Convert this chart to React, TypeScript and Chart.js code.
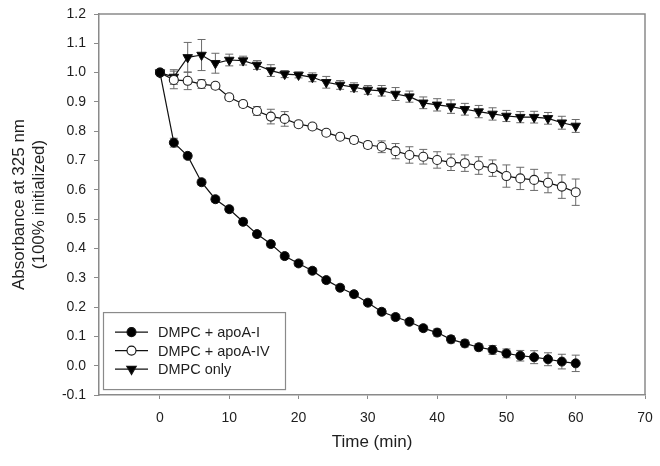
import React, { useEffect, useRef } from "react";
import { Chart, registerables } from "chart.js";

Chart.register(...registerables);

const times = [0, 2, 4, 6, 8, 10, 12, 14, 16, 18, 20, 22, 24, 26, 28, 30, 32, 34, 36, 38, 40, 42, 44, 46, 48, 50, 52, 54, 56, 58, 60];

const apoAI = [1.0, 0.761, 0.716, 0.626, 0.568, 0.534, 0.491, 0.449, 0.415, 0.374, 0.349, 0.324, 0.292, 0.266, 0.244, 0.215, 0.184, 0.166, 0.150, 0.128, 0.113, 0.090, 0.076, 0.063, 0.054, 0.042, 0.034, 0.029, 0.022, 0.014, 0.008];
const apoAIErr = [0, 0.015, 0.01, 0.01, 0.01, 0.01, 0.01, 0.01, 0.01, 0.01, 0.01, 0.01, 0.01, 0.01, 0.01, 0.01, 0.01, 0.01, 0.01, 0.01, 0.012, 0.012, 0.012, 0.012, 0.015, 0.015, 0.018, 0.022, 0.022, 0.025, 0.028];

const apoAIV = [1.0, 0.975, 0.972, 0.961, 0.955, 0.916, 0.893, 0.869, 0.850, 0.842, 0.824, 0.816, 0.795, 0.781, 0.770, 0.753, 0.747, 0.732, 0.719, 0.713, 0.702, 0.694, 0.691, 0.683, 0.674, 0.647, 0.639, 0.634, 0.624, 0.611, 0.592];
const apoAIVErr = [0, 0.03, 0.03, 0.015, 0.01, 0.01, 0.01, 0.015, 0.025, 0.025, 0.01, 0.01, 0.01, 0.01, 0.012, 0.012, 0.02, 0.026, 0.028, 0.025, 0.028, 0.028, 0.028, 0.03, 0.028, 0.038, 0.038, 0.036, 0.034, 0.04, 0.045];

const dmpcOnly = [1.0, 0.985, 1.052, 1.060, 1.032, 1.043, 1.041, 1.026, 1.007, 0.995, 0.992, 0.984, 0.967, 0.958, 0.950, 0.941, 0.938, 0.927, 0.918, 0.897, 0.890, 0.884, 0.875, 0.867, 0.859, 0.852, 0.848, 0.848, 0.844, 0.829, 0.818];
const dmpcOnlyErr = [0, 0.025, 0.051, 0.053, 0.034, 0.02, 0.015, 0.015, 0.02, 0.012, 0.01, 0.015, 0.02, 0.015, 0.015, 0.015, 0.018, 0.022, 0.019, 0.02, 0.021, 0.023, 0.02, 0.021, 0.021, 0.019, 0.019, 0.02, 0.02, 0.022, 0.022];

const seriesLabels = ["DMPC + apoA-I", "DMPC + apoA-IV", "DMPC only"];
const xTicks = [0, 10, 20, 30, 40, 50, 60, 70];
const yTicks = [-0.1, 0.0, 0.1, 0.2, 0.3, 0.4, 0.5, 0.6, 0.7, 0.8, 0.9, 1.0, 1.1, 1.2];
const xTitle = "Time (min)";
const yTitle = ["Absorbance at 325 nm", "(100% initialized)"];

const FONT = "'Liberation Sans', Arial, Helvetica, sans-serif";
const AXIS_GREY = "#8a8a8a";
const TEXT = "#1e1e1e";

type Marker = { style: "filled" | "open" | "triangle" };
const markers: Marker[] = [{ style: "filled" }, { style: "open" }, { style: "triangle" }];

function drawMarker(ctx: CanvasRenderingContext2D, m: Marker, x: number, y: number) {
  ctx.save();
  ctx.lineWidth = 1.1;
  ctx.strokeStyle = "#111";
  if (m.style === "triangle") {
    const r = 5.5;
    ctx.beginPath();
    ctx.moveTo(x, y + r);
    ctx.lineTo(x - r * Math.sin(Math.PI / 3), y - r * 0.5);
    ctx.lineTo(x + r * Math.sin(Math.PI / 3), y - r * 0.5);
    ctx.closePath();
    ctx.fillStyle = "#000";
    ctx.fill();
    ctx.stroke();
  } else {
    ctx.beginPath();
    ctx.arc(x, y, 4.5, 0, Math.PI * 2);
    ctx.fillStyle = m.style === "filled" ? "#000" : "#fff";
    ctx.fill();
    ctx.stroke();
  }
  ctx.restore();
}

const errorBarPlugin = {
  id: "errorBars",
  beforeDatasetsDraw(chart: any) {
    const { ctx, chartArea, scales } = chart;
    const xs = scales.x;
    const ys = scales.y;
    ctx.save();
    // frame top/right
    ctx.strokeStyle = AXIS_GREY;
    ctx.lineWidth = 1.5;
    ctx.beginPath();
    ctx.moveTo(chartArea.left, chartArea.top);
    ctx.lineTo(chartArea.right, chartArea.top);
    ctx.lineTo(chartArea.right, chartArea.bottom);
    ctx.stroke();
    // error bars
    ctx.strokeStyle = "#6a6a6a";
    ctx.lineWidth = 1;
    chart.data.datasets.forEach((ds: any) => {
      const errs: number[] = ds.errors || [];
      ds.data.forEach((p: any, i: number) => {
        const e = errs[i] || 0;
        if (!e) return;
        const px = xs.getPixelForValue(p.x);
        const y1 = ys.getPixelForValue(p.y + e);
        const y2 = ys.getPixelForValue(p.y - e);
        const cap = 4;
        ctx.beginPath();
        ctx.moveTo(px, y1);
        ctx.lineTo(px, y2);
        ctx.moveTo(px - cap, y1);
        ctx.lineTo(px + cap, y1);
        ctx.moveTo(px - cap, y2);
        ctx.lineTo(px + cap, y2);
        ctx.stroke();
      });
    });
    ctx.restore();
  },
};

const legendPlugin = {
  id: "insetLegend",
  afterDraw(chart: any) {
    const { ctx, chartArea, scales } = chart;
    const left = chartArea.left + 4;
    const top = scales.y.getPixelForValue(0.2) + 5;
    const w = 182;
    const h = 77;
    ctx.save();
    ctx.fillStyle = "#fff";
    ctx.fillRect(left, top, w, h);
    ctx.strokeStyle = AXIS_GREY;
    ctx.lineWidth = 1.2;
    ctx.strokeRect(left + 0.5, top + 0.5, w, h);
    const rowY = [top + 20, top + 38.5, top + 57];
    seriesLabels.forEach((label, i) => {
      const y = rowY[i];
      ctx.strokeStyle = "#111";
      ctx.lineWidth = 1.2;
      ctx.beginPath();
      ctx.moveTo(left + 12, y);
      ctx.lineTo(left + 45, y);
      ctx.stroke();
      drawMarker(ctx, markers[i], left + 28.5, y);
      ctx.fillStyle = TEXT;
      ctx.font = `14.5px ${FONT}`;
      ctx.textAlign = "left";
      ctx.textBaseline = "middle";
      ctx.fillText(label, left + 55, y + 1);
    });
    ctx.restore();
  },
};

export default function App() {
  const canvasRef = useRef<HTMLCanvasElement | null>(null);

  useEffect(() => {
    document.body.style.margin = "0";
    const canvas = canvasRef.current;
    if (!canvas) return;
    const toPts = (vals: number[]) => times.map((t, i) => ({ x: t, y: vals[i] }));
    const chart = new Chart(canvas, {
      type: "line",
      data: {
        datasets: [
          {
            label: seriesLabels[0],
            data: toPts(apoAI),
            errors: apoAIErr,
            borderColor: "#111",
            borderWidth: 1.2,
            pointStyle: "circle",
            pointRadius: 4.5,
            pointBackgroundColor: "#000",
            pointBorderColor: "#111",
            pointBorderWidth: 1,
            tension: 0,
          } as any,
          {
            label: seriesLabels[1],
            data: toPts(apoAIV),
            errors: apoAIVErr,
            borderColor: "#111",
            borderWidth: 1.2,
            pointStyle: "circle",
            pointRadius: 4.5,
            pointBackgroundColor: "#fff",
            pointBorderColor: "#222",
            pointBorderWidth: 1.1,
            tension: 0,
          } as any,
          {
            label: seriesLabels[2],
            data: toPts(dmpcOnly),
            errors: dmpcOnlyErr,
            borderColor: "#111",
            borderWidth: 1.2,
            pointStyle: "triangle",
            pointRotation: 180,
            pointRadius: 5.5,
            pointBackgroundColor: "#000",
            pointBorderColor: "#111",
            pointBorderWidth: 1,
            tension: 0,
          } as any,
        ],
      },
      options: {
        responsive: false,
        animation: false,
        layout: { padding: { top: 14, right: 15, left: 0, bottom: 0 } },
        plugins: { legend: { display: false }, tooltip: { enabled: false } },
        scales: {
          x: {
            type: "linear",
            min: -8.8,
            max: 70,
            afterFit: (s: any) => {
              s.height = 71;
              s.paddingLeft = 0;
              s.paddingRight = 0;
            },
            afterBuildTicks: (s: any) => {
              s.ticks = xTicks.map((v) => ({ value: v }));
            },
            grid: { drawOnChartArea: false, drawTicks: true, tickLength: 4, color: AXIS_GREY, lineWidth: 1 },
            border: { display: true, color: AXIS_GREY, width: 1.5 },
            ticks: { padding: 11, color: TEXT, font: { family: FONT, size: 14 }, maxRotation: 0 },
            title: {
              display: true,
              text: xTitle,
              color: TEXT,
              font: { family: FONT, size: 17, lineHeight: 1.2 },
              padding: { top: 0, bottom: 13 },
            },
          },
          y: {
            type: "linear",
            min: -0.1,
            max: 1.2,
            afterFit: (s: any) => {
              s.width = 99;
              s.paddingTop = 0;
              s.paddingBottom = 0;
            },
            afterBuildTicks: (s: any) => {
              s.ticks = yTicks.map((v) => ({ value: v }));
            },
            grid: { drawOnChartArea: false, drawTicks: true, tickLength: 5, color: AXIS_GREY, lineWidth: 1 },
            border: { display: true, color: AXIS_GREY, width: 1.5 },
            ticks: {
              padding: 8,
              color: TEXT,
              font: { family: FONT, size: 14 },
              callback: (v: any) => Number(v).toFixed(1),
            },
            title: {
              display: true,
              text: yTitle,
              color: TEXT,
              font: { family: FONT, size: 17, lineHeight: 1.18 },
              padding: { top: 9, bottom: 0 },
            },
          },
        },
      } as any,
      plugins: [errorBarPlugin, legendPlugin],
    });
    return () => chart.destroy();
  }, []);

  return (
    <div style={{ width: 660, height: 466, background: "#fff" }}>
      <canvas ref={canvasRef} width={660} height={466} style={{ display: "block" }} />
    </div>
  );
}
